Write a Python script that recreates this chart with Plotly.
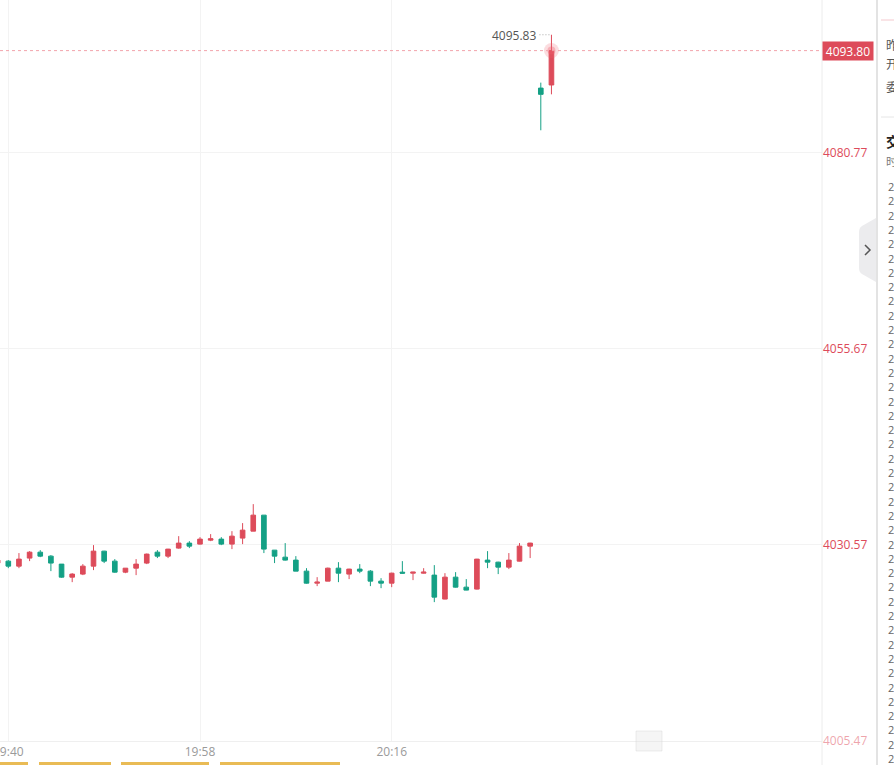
import plotly.graph_objects as go
import pandas as pd

# ---------------- data ----------------
times = ["19:39", "19:40", "19:41", "19:42", "19:43", "19:44", "19:45", "19:46", "19:47", "19:48",
         "19:49", "19:50", "19:51", "19:52", "19:53", "19:54", "19:55", "19:56", "19:57", "19:58",
         "19:59", "20:00", "20:01", "20:02", "20:03", "20:04", "20:05", "20:06", "20:07", "20:08",
         "20:09", "20:10", "20:11", "20:12", "20:13", "20:14", "20:15", "20:16", "20:17", "20:18",
         "20:19", "20:20", "20:21", "20:22", "20:23", "20:24", "20:25", "20:26", "20:27", "20:28",
         "20:29", "20:30", "20:31"]
opens = [4028.18, 4028.43, 4027.79, 4028.82, 4029.58, 4029.07, 4028.05, 4026.38, 4026.77, 4027.79,
         4029.71, 4028.43, 4027.02, 4027.53, 4028.18, 4029.58, 4029.07, 4030.10, 4030.74, 4030.61,
         4031.12, 4031.25, 4030.61, 4031.38, 4032.27, 4034.32, 4029.84, 4028.94, 4028.56, 4027.15,
         4025.61, 4025.87, 4027.53, 4026.77, 4027.41, 4027.15, 4025.87, 4025.61, 4027.02, 4026.89,
         4026.89, 4026.64, 4023.57, 4026.38, 4025.10, 4024.85, 4028.56, 4028.30, 4027.66, 4028.43,
         4030.35, 4089.00, 4089.40]
highs = [4028.60, 4028.56, 4029.46, 4029.71, 4029.84, 4029.20, 4028.05, 4026.89, 4028.05, 4030.48,
         4029.75, 4028.69, 4027.53, 4028.69, 4029.40, 4029.84, 4030.00, 4031.63, 4030.99, 4031.50,
         4031.89, 4031.50, 4032.27, 4033.30, 4035.73, 4034.32, 4029.84, 4030.74, 4029.07, 4027.53,
         4026.38, 4027.60, 4028.30, 4027.45, 4028.05, 4027.28, 4026.25, 4026.95, 4028.43, 4027.05,
         4027.53, 4027.92, 4026.89, 4027.02, 4026.13, 4028.72, 4029.71, 4028.35, 4029.46, 4030.74,
         4030.78, 4089.70, 4095.83]
lows = [4028.10, 4027.53, 4027.53, 4028.43, 4028.94, 4027.15, 4026.30, 4025.74, 4026.64, 4027.28,
        4028.18, 4026.95, 4026.89, 4026.64, 4028.05, 4028.82, 4028.82, 4030.02, 4030.10, 4030.55,
        4030.99, 4030.48, 4029.97, 4030.61, 4032.27, 4029.46, 4028.18, 4028.50, 4027.15, 4025.55,
        4025.23, 4025.87, 4025.74, 4026.13, 4026.89, 4025.23, 4024.97, 4025.10, 4026.85, 4026.00,
        4026.85, 4023.18, 4023.55, 4025.05, 4024.70, 4024.80, 4027.53, 4026.77, 4027.41, 4028.40,
        4028.82, 4083.60, 4088.20]
closes = [4028.56, 4027.79, 4028.69, 4029.58, 4029.07, 4028.18, 4026.38, 4026.77, 4027.79, 4029.71,
          4028.43, 4027.02, 4027.53, 4028.05, 4029.33, 4029.07, 4029.97, 4030.74, 4030.35, 4031.25,
          4031.30, 4030.61, 4031.63, 4032.40, 4034.32, 4029.97, 4029.07, 4028.56, 4027.15, 4025.61,
          4025.74, 4027.53, 4026.89, 4027.41, 4027.15, 4025.87, 4025.61, 4026.89, 4026.89, 4027.02,
          4027.02, 4023.82, 4026.38, 4025.10, 4024.72, 4028.69, 4028.30, 4027.66, 4028.56, 4030.35,
          4030.74, 4088.20, 4093.80]
price_ticks = [4080.77, 4055.67, 4030.57, 4005.47]
time_ticks = ["19:40", "19:58", "20:16"]
last_price = 4093.80
high_price = 4095.83
side_labels = ["昨收", "开盘", "委比"]
side_title = "交易明细"
side_header = "时间"
trade_times = ["20:31"] * 41

# ---------------- figure ----------------
W, H = 894, 765
PLOT_R = 822
AXIS_B = 741
DAY = "2024-01-02 "

x = pd.to_datetime([DAY + t for t in times])
xt = pd.to_datetime([DAY + t for t in time_ticks])

RED = "#dd4b5a"
GREEN = "#14a085"

px_per_min = 10.65
x0 = pd.Timestamp(DAY + "19:40") - pd.Timedelta(minutes=8.3 / px_per_min)
x1 = x0 + pd.Timedelta(minutes=PLOT_R / px_per_min)

fig = go.Figure()
fig.add_trace(go.Candlestick(
    x=x, open=opens, high=highs, low=lows, close=closes,
    increasing=dict(line=dict(color=RED, width=1), fillcolor=RED),
    decreasing=dict(line=dict(color=GREEN, width=1), fillcolor=GREEN),
    whiskerwidth=0, showlegend=False, hoverinfo="skip",
))

# glow at latest price
fig.add_trace(go.Scatter(
    x=[x[-1]], y=[last_price], mode="markers",
    marker=dict(size=15, color="rgba(238,95,110,0.22)", line=dict(width=0)),
    showlegend=False, hoverinfo="skip",
))
fig.add_trace(go.Scatter(
    x=[x[-1]], y=[last_price], mode="markers",
    marker=dict(size=8, color="rgba(238,95,110,0.35)", line=dict(width=0)),
    showlegend=False, hoverinfo="skip",
))

ticktext_y = [f"{v:.2f}" for v in price_ticks]
ticktext_y[-1] = f'<span style="color:rgba(221,75,90,0.5)">{price_ticks[-1]:.2f}</span>'

fig.update_layout(
    width=W, height=H,
    margin=dict(l=0, r=0, t=0, b=0, autoexpand=False),
    paper_bgcolor="white", plot_bgcolor="white",
    font=dict(family="Open Sans, Noto Sans, sans-serif", size=12, color="#999999"),
    boxgap=0.38,
    xaxis=dict(
        domain=[0, PLOT_R / W], range=[x0, x1], type="date",
        rangeslider=dict(visible=False), automargin=False,
        tickvals=xt, ticktext=time_ticks, ticks="",
        tickfont=dict(size=12, color="#9a9a9a"),
        ticklabeloverflow="allow",
        showgrid=True, gridcolor="#f3f3f3", gridwidth=1,
        showline=True, linecolor="#efefef", linewidth=1,
        zeroline=False, fixedrange=True,
    ),
    yaxis=dict(
        domain=[(H - AXIS_B) / H, 1], range=[4005.40, 4100.28], automargin=False,
        side="right", tickvals=price_ticks, ticktext=ticktext_y, ticks="",
        tickfont=dict(size=12, color=RED),
        showgrid=True, gridcolor="#f3f3f3", gridwidth=1,
        zeroline=False, showline=False, fixedrange=True,
    ),
)

def px(xp):
    return xp / W

def py(yp):
    return 1 - yp / H

shapes = []
# current price dashed line
shapes.append(dict(type="line", xref="paper", yref="y", x0=0, x1=px(PLOT_R),
                   y0=last_price, y1=last_price,
                   line=dict(color="#f2a3ab", width=1, dash="3px,3px")))
# dotted leader to the high label
shapes.append(dict(type="line", xref="x", yref="y", xsizemode="pixel", xanchor=x[-1],
                   x0=-12, x1=0, y0=high_price, y1=high_price,
                   line=dict(color="#aaaaaa", width=1, dash="1px,2px")))
# axis border line and side panel divider
shapes.append(dict(type="line", xref="paper", yref="paper", x0=px(PLOT_R), x1=px(PLOT_R),
                   y0=0, y1=1, line=dict(color="#ececec", width=1)))
shapes.append(dict(type="line", xref="paper", yref="paper", x0=px(877), x1=px(877),
                   y0=0, y1=1, line=dict(color="#e3e3e3", width=2)))
shapes.append(dict(type="line", xref="paper", yref="paper", x0=px(881), x1=px(894),
                   y0=py(117), y1=py(117), line=dict(color="#e6e6e6", width=1)))
shapes.append(dict(type="line", xref="paper", yref="paper", x0=px(881), x1=px(894),
                   y0=py(20), y1=py(20), line=dict(color="#f4c9ce", width=1)))
# collapse button
shapes.append(dict(type="path", xref="paper", yref="paper",
                   path=f"M {px(876)},{py(218)} L {px(862)},{py(226)} Q {px(859)},{py(228)} {px(859)},{py(232)} "
                        f"L {px(859)},{py(268)} Q {px(859)},{py(272)} {px(862)},{py(274)} L {px(876)},{py(282)} Z",
                   fillcolor="#ececee", line=dict(width=0)))
shapes.append(dict(type="path", xref="paper", yref="paper",
                   path=f"M {px(865)},{py(245)} L {px(870)},{py(250)} L {px(865)},{py(255)}",
                   line=dict(color="#555555", width=1.5)))
# faint slider handle
shapes.append(dict(type="rect", xref="paper", yref="paper", x0=px(636), x1=px(662),
                   y0=py(751), y1=py(731), fillcolor="rgba(225,225,225,0.35)",
                   line=dict(color="rgba(210,210,210,0.4)", width=1)))
# bottom tabs
for a, b in [(0, 28), (39, 111), (121, 209), (220, 340)]:
    shapes.append(dict(type="rect", xref="paper", yref="paper", x0=px(a), x1=px(b),
                       y0=py(765), y1=py(762), fillcolor="#e9bb55", line=dict(width=0)))
fig.update_layout(shapes=shapes)

annotations = []
annotations.append(dict(xref="x", yref="y", x=x[-1], y=high_price, xanchor="right", yanchor="middle",
                        xshift=-13, yshift=-1, text=f"{high_price:.2f}", showarrow=False,
                        font=dict(size=12, color="#555555")))
annotations.append(dict(xref="paper", yref="y", x=px(PLOT_R), y=last_price, xanchor="left",
                        yanchor="middle", text=f"{last_price:.2f}", showarrow=False,
                        bgcolor=RED, width=48, height=16, borderpad=1,
                        font=dict(size=12, color="white")))
# side panel (cut off at the window edge)
for lbl, yy in zip(side_labels, [44, 63, 86]):
    annotations.append(dict(xref="paper", yref="paper", x=px(885), y=py(yy), xanchor="left",
                            yanchor="middle", text=lbl, showarrow=False, borderpad=0,
                            font=dict(size=12, color="#555555", family="Noto Sans CJK SC")))
annotations.append(dict(xref="paper", yref="paper", x=px(885), y=py(141), xanchor="left",
                        yanchor="middle", text=f"<b>{side_title}</b>", showarrow=False, borderpad=0,
                        font=dict(size=14, color="#222222", family="Noto Sans CJK SC")))
annotations.append(dict(xref="paper", yref="paper", x=px(885), y=py(161), xanchor="left",
                        yanchor="middle", text=side_header, showarrow=False, borderpad=0,
                        font=dict(size=11, color="#777777", family="Noto Sans CJK SC")))
annotations.append(dict(xref="paper", yref="paper", x=px(886), y=py(177), xanchor="left",
                        yanchor="top", text="<br>".join(trade_times), showarrow=False,
                        align="left", font=dict(size=11, color="#666666")))
fig.update_layout(annotations=annotations)

fig.write_html("out.html")
